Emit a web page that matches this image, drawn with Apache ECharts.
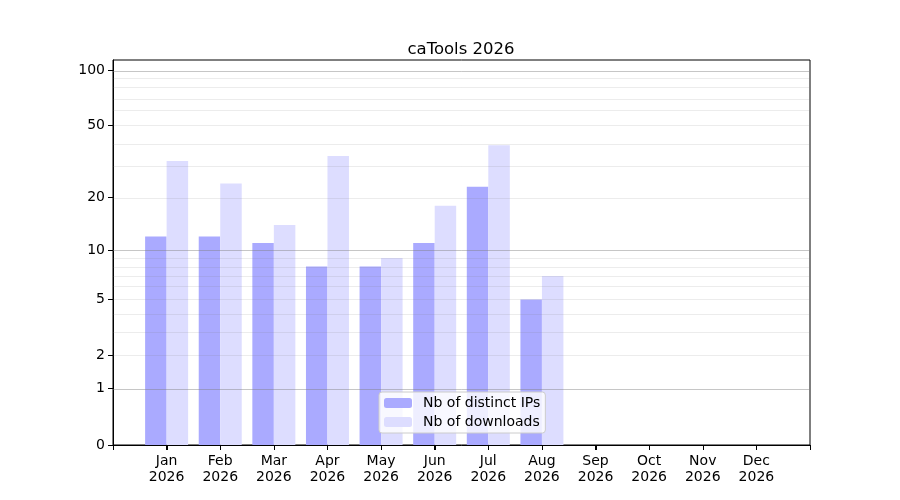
<!DOCTYPE html>
<html>
<head>
<meta charset="utf-8">
<script src="https://cdn.jsdelivr.net/npm/echarts@6/dist/echarts.min.js"></script>
<style>
  html, body { margin: 0; padding: 0; background: #fff; }
  #chart { width: 900px; height: 500px; }
</style>
</head>
<body>
<div id="chart"></div>
<script>
// Données
const months = ['Jan', 'Feb', 'Mar', 'Apr', 'May', 'Jun', 'Jul', 'Aug', 'Sep', 'Oct', 'Nov', 'Dec'];
const year = '2026';
const distinctIPs = [12, 12, 11, 8, 8, 11, 23, 5];
const downloads = [32, 24, 14, 34, 9, 18, 39, 7];
const yTicks = [0, 1, 2, 5, 10, 20, 50, 100];
const majorGrid = [1, 10, 100];
const minorGrid = [2, 3, 4, 5, 6, 7, 8, 9, 20, 30, 40, 50, 60, 70, 80, 90];

// échelle log10(1 + x) comme sur l'original
const tf = v => Math.log10(1 + v);

const chart = echarts.init(document.getElementById('chart'));

const gridLines = [];
minorGrid.forEach(v => gridLines.push({ yAxis: tf(v), lineStyle: { color: 'rgba(128,128,128,0.15)', width: 1, type: 'solid' } }));
majorGrid.forEach(v => gridLines.push({ yAxis: tf(v), lineStyle: { color: 'rgba(128,128,128,0.45)', width: 1, type: 'solid' } }));

// axe catégoriel auxiliaire : un point par unité de -1 à 12, pour les graduations
const tickCats = [''].concat(months, ['']);

const option = {
    backgroundColor: '#fff',
    animation: false,
    textStyle: { fontFamily: 'DejaVu Sans' },
    title: {
        text: 'caTools ' + year,
        left: 456,
        top: 36,
        textAlign: 'center',
        textStyle: { fontSize: 16.5, fontWeight: 'normal', color: '#000', fontFamily: 'DejaVu Sans' }
    },
    grid: {
        left: 113, right: 90, top: 60, bottom: 55,
        show: true, borderColor: '#000', borderWidth: 1,
        containLabel: false
    },
    legend: {
        data: ['Nb of distinct IPs', 'Nb of downloads'],
        orient: 'vertical',
        left: 379,
        top: 392,
        itemWidth: 28,
        itemHeight: 10,
        itemGap: 5,
        padding: [4, 5, 4, 5],
        backgroundColor: 'rgba(255,255,255,0.8)',
        borderColor: '#cccccc',
        borderWidth: 1,
        borderRadius: 3,
        textStyle: { fontSize: 14, color: '#000', fontFamily: 'DejaVu Sans', padding: [0, 0, 0, 6] }
    },
    xAxis: [
        {
            type: 'value',
            min: -1,
            max: 12,
            interval: 1,
            splitLine: { show: false },
            axisLine: { show: true, onZero: false, lineStyle: { color: '#000', width: 1 } },
            axisTick: { show: false },
            axisLabel: {
                formatter: v => (v >= 0 && v < 12) ? months[Math.round(v)] + '\n' + year : '',
                fontSize: 14, lineHeight: 16, color: '#000', margin: 8
            }
        },
        {
            type: 'category',
            position: 'bottom',
            boundaryGap: false,
            data: tickCats,
            axisLine: { show: false, onZero: false },
            axisLabel: { show: false },
            splitLine: { show: false },
            axisTick: {
                show: true,
                length: 5,
                interval: 0,
                lineStyle: { color: '#000', width: 1 }
            }
        }
    ],
    yAxis: {
        type: 'value',
        min: 0,
        max: 2.0577,
        splitLine: { show: false },
        axisLine: { show: true, onZero: false, lineStyle: { color: '#000', width: 1 } },
        axisTick: { show: true, length: 5, lineStyle: { color: '#000' }, customValues: yTicks.map(tf) },
        axisLabel: {
            customValues: yTicks.map(tf),
            formatter: v => String(Math.round(Math.pow(10, v) - 1)),
            fontSize: 14, color: '#000', margin: 8
        }
    },
    series: [
        {
            name: 'Nb of distinct IPs',
            type: 'bar',
            barWidth: 21.5,
            barGap: '0%',
            itemStyle: { color: '#aaaaff', borderWidth: 0 },
            data: distinctIPs.map((v, i) => [i, tf(v)])
        },
        {
            name: 'Nb of downloads',
            type: 'bar',
            barWidth: 21.5,
            barGap: '0%',
            itemStyle: { color: '#ddddff', borderWidth: 0 },
            data: downloads.map((v, i) => [i, tf(v)])
        },
        {
            name: 'grid',
            type: 'line',
            data: [],
            z: 10,
            silent: true,
            markLine: {
                silent: true,
                symbol: ['none', 'none'],
                label: { show: false },
                data: gridLines
            }
        }
    ]
};

chart.setOption(option);

// graduations des mois, placées via l'échelle de l'axe x
const tickGraphics = months.map((m, i) => {
    const p = chart.convertToPixel({ xAxisIndex: 0, yAxisIndex: 0 }, [i, 0]);
    const x = Math.round(p[0]) + 0.5;
    return {
        type: 'line',
        z: 100,
        silent: true,
        shape: { x1: x, y1: p[1], x2: x, y2: p[1] + 5 },
        style: { stroke: '#000', lineWidth: 1 }
    };
});
chart.setOption({ graphic: tickGraphics });
</script>
</body>
</html>
